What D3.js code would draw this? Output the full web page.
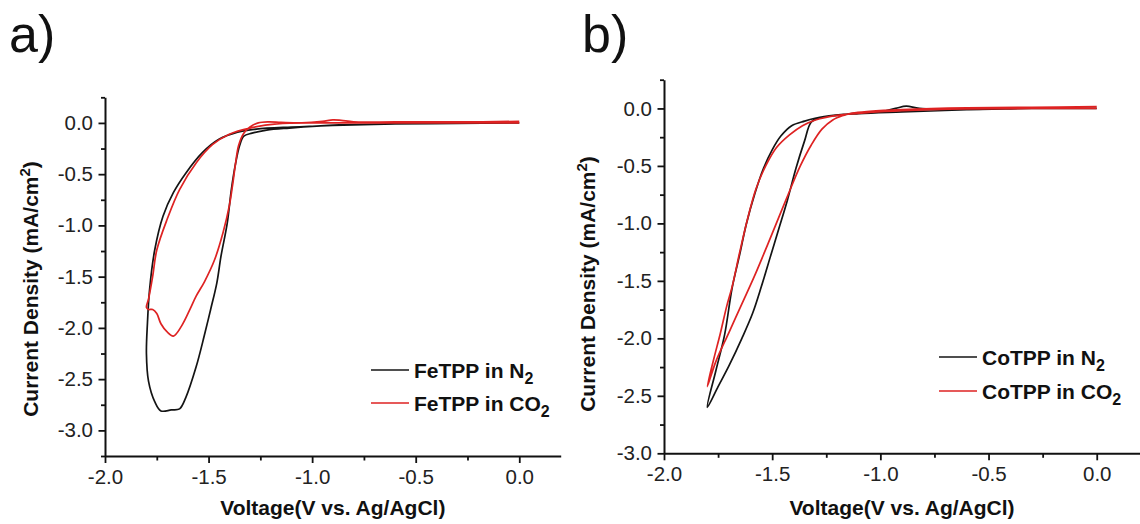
<!DOCTYPE html>
<html>
<head>
<meta charset="utf-8">
<script src="https://cdn.jsdelivr.net/npm/d3@7"></script>
<style>
  html, body { margin: 0; padding: 0; background: #fff; }
  svg { display: block; font-family: "Liberation Sans", Arial, sans-serif; }
</style>
</head>
<body>
<svg id="chart" width="1140" height="524"></svg>
<script>
// ---------- data ----------
const xMajorTicks = [-2.0, -1.5, -1.0, -0.5, 0.0];
const xMinorTicks = [-1.75, -1.25, -0.75, -0.25];
const yMajorTicksA = [0.0, -0.5, -1.0, -1.5, -2.0, -2.5, -3.0];
const yMinorTicksA = [0.25, -0.25, -0.75, -1.25, -1.75, -2.25, -2.75, -3.25];
const yMajorTicksB = [0.0, -0.5, -1.0, -1.5, -2.0, -2.5, -3.0];
const yMinorTicksB = [0.25, -0.25, -0.75, -1.25, -1.75, -2.25, -2.75];

const legendA = ["FeTPP in N", "FeTPP in CO"];
const legendB = ["CoTPP in N", "CoTPP in CO"];

// FeTPP in N2 (black), panel a
const feN2 = [[0.0,0.0],[-0.3,-0.005],[-0.62,-0.01],[-0.87,-0.02],[-1.11,-0.05],[-1.22,-0.07],[-1.29,-0.10],[-1.33,-0.13],
 [-1.35,-0.22],[-1.37,-0.40],[-1.39,-0.65],[-1.41,-0.98],[-1.44,-1.30],[-1.46,-1.56],[-1.49,-1.82],[-1.52,-2.07],
 [-1.56,-2.38],[-1.61,-2.68],[-1.64,-2.79],[-1.68,-2.80],[-1.73,-2.81],[-1.76,-2.72],[-1.79,-2.52],[-1.80,-2.25],
 [-1.795,-1.95],[-1.785,-1.63],[-1.76,-1.24],[-1.72,-0.91],[-1.67,-0.68],[-1.61,-0.49],[-1.53,-0.29],[-1.45,-0.16],
 [-1.36,-0.09],[-1.27,-0.06],[-1.1,-0.04],[-0.9,-0.025],[-0.6,-0.01],[-0.3,0.0],[0.0,0.0]];

// FeTPP in CO2 (red), panel a
const feCO2 = [[0.0,0.015],[-0.3,0.01],[-0.6,0.01],[-0.8,0.01],[-0.86,0.025],[-0.9,0.03],[-0.95,0.015],[-1.05,0.0],
 [-1.15,0.005],[-1.21,0.01],[-1.26,0.0],[-1.30,-0.04],[-1.33,-0.10],[-1.355,-0.22],[-1.37,-0.40],[-1.385,-0.62],
 [-1.40,-0.81],[-1.43,-1.07],[-1.47,-1.33],[-1.52,-1.55],[-1.56,-1.69],[-1.59,-1.82],[-1.63,-1.98],[-1.67,-2.08],
 [-1.70,-2.04],[-1.73,-1.96],[-1.75,-1.86],[-1.77,-1.82],[-1.79,-1.82],[-1.80,-1.80],
 [-1.79,-1.72],[-1.77,-1.50],[-1.75,-1.24],[-1.70,-0.94],[-1.64,-0.65],[-1.56,-0.39],[-1.48,-0.21],[-1.40,-0.11],
 [-1.30,-0.05],[-1.17,-0.01],[-0.95,0.0],[-0.5,0.0],[0.0,0.0]];

// CoTPP in N2 (black), panel b
const coN2 = [[0.0,0.0],[-0.3,0.0],[-0.6,-0.01],[-0.82,0.0],[-0.88,0.02],[-0.93,0.0],[-1.0,-0.03],[-1.1,-0.04],
 [-1.2,-0.06],[-1.28,-0.08],[-1.32,-0.12],[-1.35,-0.28],[-1.39,-0.52],[-1.43,-0.80],[-1.47,-1.05],[-1.51,-1.30],
 [-1.55,-1.55],[-1.59,-1.78],[-1.64,-2.0],[-1.70,-2.24],[-1.75,-2.42],[-1.80,-2.60],
 [-1.76,-2.28],[-1.72,-1.97],[-1.685,-1.56],[-1.65,-1.27],[-1.62,-1.01],[-1.58,-0.74],[-1.54,-0.52],[-1.50,-0.36],
 [-1.46,-0.24],[-1.41,-0.15],[-1.35,-0.11],[-1.26,-0.07],[-1.1,-0.045],[-0.9,-0.03],[-0.6,-0.01],[-0.3,0.0],[0.0,0.0]];

// CoTPP in CO2 (red), panel b
const coCO2 = [[0.0,0.015],[-0.3,0.01],[-0.6,0.005],[-0.9,-0.01],[-1.05,-0.025],[-1.13,-0.04],[-1.17,-0.06],[-1.22,-0.10],
 [-1.27,-0.18],[-1.32,-0.32],[-1.37,-0.50],[-1.42,-0.72],[-1.47,-0.95],[-1.52,-1.18],[-1.58,-1.45],[-1.64,-1.70],
 [-1.70,-1.95],[-1.76,-2.20],[-1.80,-2.42],
 [-1.77,-2.18],[-1.74,-1.96],[-1.71,-1.72],[-1.685,-1.55],[-1.65,-1.25],[-1.615,-0.97],[-1.575,-0.70],[-1.53,-0.50],
 [-1.48,-0.34],[-1.42,-0.23],[-1.36,-0.15],[-1.30,-0.10],[-1.20,-0.06],[-1.05,-0.035],[-0.9,-0.02],[-0.6,-0.005],
 [-0.3,0.0],[0.0,0.0]];

// ---------- drawing ----------
const svg = d3.select("#chart");
svg.append("rect").attr("width", 1140).attr("height", 524).attr("fill", "#fff");

const BLACK = "#141414", RED = "#de2222";
const fmt = d => d.toFixed(1);

function panel(cfg) {
  const x = d3.scaleLinear().domain([-2.0, 0.2]).range([cfg.left, cfg.right]);
  const y = d3.scaleLinear().domain(cfg.yDomain).range([cfg.bottom, cfg.top]);
  const g = svg.append("g");

  // minor ticks
  g.append("g").attr("transform", `translate(0,${cfg.bottom})`)
    .call(d3.axisBottom(x).tickValues(xMinorTicks).tickSize(4.5).tickSizeOuter(0).tickFormat(""))
    .call(a => a.select(".domain").remove());
  g.append("g").attr("transform", `translate(${cfg.left},0)`)
    .call(d3.axisLeft(y).tickValues(cfg.yMinor).tickSize(4).tickSizeOuter(0).tickFormat(""))
    .call(a => a.select(".domain").remove());

  // major axes
  g.append("g").attr("transform", `translate(0,${cfg.bottom})`)
    .call(d3.axisBottom(x).tickValues(xMajorTicks).tickSize(7).tickSizeOuter(0).tickPadding(6.4).tickFormat(fmt));
  g.append("g").attr("transform", `translate(${cfg.left},0)`)
    .call(d3.axisLeft(y).tickValues(cfg.yMajor).tickSize(6.5).tickSizeOuter(0).tickPadding(5.5).tickFormat(fmt));

  g.selectAll(".domain").attr("stroke", "#111").attr("stroke-width", 2);
  g.selectAll(".tick line").attr("stroke", "#111").attr("stroke-width", 1.8);
  g.selectAll(".tick text").attr("fill", "#222").style("font-size", "20.5px")
    .style("font-family", '"Liberation Sans", Arial, sans-serif');

  // curves
  const line = d3.line().x(d => x(d[0])).y(d => y(d[1])).curve(d3.curveCatmullRom.alpha(0.5));
  g.append("path").datum(cfg.black).attr("d", line).attr("fill", "none")
    .attr("stroke", BLACK).attr("stroke-width", 1.7).attr("stroke-linejoin", "round");
  g.append("path").datum(cfg.red).attr("d", line).attr("fill", "none")
    .attr("stroke", RED).attr("stroke-width", 1.7).attr("stroke-linejoin", "round");

  // panel letter
  svg.append("text").attr("x", cfg.letterX).attr("y", 52).text(cfg.letter)
    .style("font-size", "52px").attr("fill", "#111");

  // axis titles
  const yt = svg.append("text")
    .attr("transform", `translate(${cfg.yTitleX},${cfg.yTitleY}) rotate(-90)`)
    .attr("text-anchor", "middle").style("font-size", "21px").style("font-weight", "bold").attr("fill", "#111");
  yt.append("tspan").text("Current Density (mA/cm");
  yt.append("tspan").text("2").style("font-size", "15px").attr("dy", -8);
  yt.append("tspan").text(")").attr("dy", 8);

  svg.append("text").attr("x", (cfg.left + cfg.right) / 2).attr("y", 515)
    .attr("text-anchor", "middle").style("font-size", "21px").style("font-weight", "bold").attr("fill", "#111")
    .text("Voltage(V vs. Ag/AgCl)");

  // legend
  const items = [{ label: cfg.legend[0], color: BLACK, y: cfg.legY[0] },
                 { label: cfg.legend[1], color: RED, y: cfg.legY[1] }];
  items.forEach(it => {
    svg.append("line").attr("x1", cfg.legX).attr("x2", cfg.legX + 38)
      .attr("y1", it.y).attr("y2", it.y).attr("stroke", it.color).attr("stroke-width", 1.7);
    const t = svg.append("text").attr("x", cfg.legX + 43).attr("y", it.y + 7.5)
      .style("font-size", "21px").style("font-weight", "bold").attr("fill", "#111");
    t.append("tspan").text(it.label);
    t.append("tspan").text("2").style("font-size", "16px").attr("dy", 6);
  });
}

panel({
  left: 105, right: 560.7, top: 97.3, bottom: 456, yDomain: [-3.25, 0.25],
  yMajor: yMajorTicksA, yMinor: yMinorTicksA, black: feN2, red: feCO2,
  letter: "a)", letterX: 9, yTitleX: 38, yTitleY: 289,
  legend: legendA, legX: 371, legY: [370, 403]
});
panel({
  left: 664, right: 1140, top: 79.7, bottom: 453.3, yDomain: [-3.0, 0.25],
  yMajor: yMajorTicksB, yMinor: yMinorTicksB, black: coN2, red: coCO2,
  letter: "b)", letterX: 582, yTitleX: 595, yTitleY: 284,
  legend: legendB, legX: 939, legY: [357, 391]
});
</script>
</body>
</html>
